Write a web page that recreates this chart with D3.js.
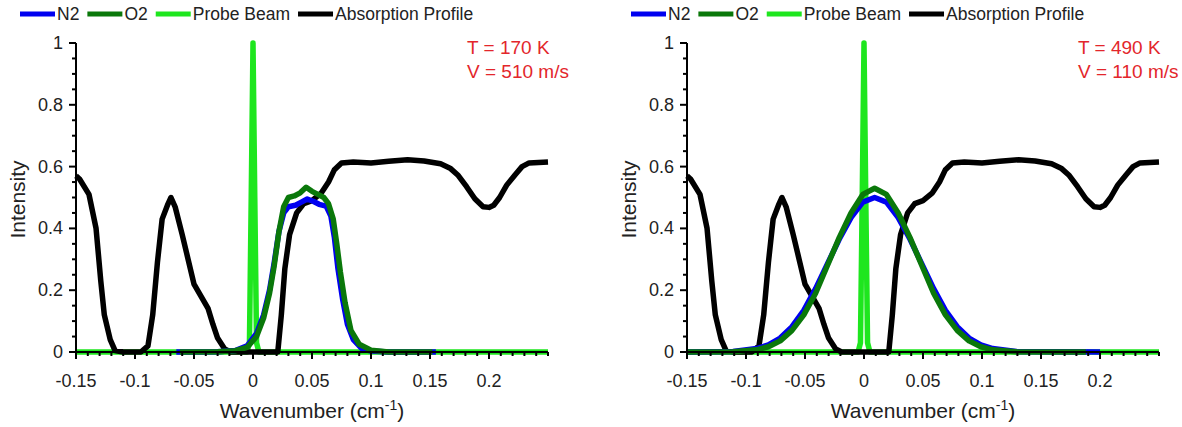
<!doctype html>
<html lang="en">
<head>
  <meta charset="utf-8">
  <title>Probe beam vs absorption profile</title>
  <script src="https://d3js.org/d3.v7.min.js"></script>
  <style>
    body { margin: 0; background: #fff; }
    svg text { font-family: "Liberation Sans", Arial, sans-serif; fill: #222; }
    .tick-label { font-size: 18px; }
    .title { font-size: 21px; }
    .legend text { font-size: 17.5px; }
    .note { font-size: 19px; fill: #e3262b; }
    .series { fill: none; stroke-width: 5.5; stroke-linejoin: round; stroke-linecap: butt; }
  </style>
</head>
<body>
<svg id="chart" width="1182" height="427"></svg>
<script>
// ---- data ----
const seriesNames = ['N2', 'O2', 'Probe Beam', 'Absorption Profile'];
const seriesColors = ['#0000f0', '#0a780a', '#1ee61e', '#000000'];

// absorption profile (same in both panels)
const absX = [-0.15, -0.147, -0.139, -0.133, -0.129, -0.126, -0.121, -0.117, -0.11, -0.095, -0.089, -0.085,
  -0.081, -0.077, -0.0725, -0.0695, -0.066, -0.06, -0.055, -0.05, -0.044, -0.038, -0.034, -0.03, -0.024,
  -0.019, 0, 0.021, 0.024, 0.027, 0.031, 0.037, 0.043, 0.05, 0.058, 0.064, 0.069, 0.075, 0.085, 0.1, 0.115,
  0.131, 0.145, 0.159, 0.167, 0.174, 0.181, 0.188, 0.195, 0.2, 0.204, 0.209, 0.215, 0.222, 0.228, 0.234, 0.25];
const absY = [0.57, 0.56, 0.51, 0.40, 0.23, 0.12, 0.04, 0.005, 0, 0, 0.02, 0.12,
  0.29, 0.43, 0.475, 0.50, 0.47, 0.38, 0.30, 0.22, 0.18, 0.14, 0.09, 0.045, 0.01,
  0, 0, 0, 0.12, 0.27, 0.38, 0.45, 0.48, 0.49, 0.515, 0.55, 0.59, 0.612, 0.615, 0.612, 0.617,
  0.622, 0.618, 0.609, 0.595, 0.571, 0.535, 0.496, 0.47, 0.468, 0.475, 0.5, 0.54, 0.573, 0.6, 0.612, 0.615];

// probe beam (same in both panels)
const probeX = [-0.15, -0.005, -0.003, -0.0015, 0, 0.0015, 0.003, 0.005, 0.25];
const probeY = [0, 0, 0.03, 0.5, 1, 0.5, 0.03, 0, 0];

// left panel: T = 170 K, V = 510 m/s
const n2LeftX = [-0.065, -0.03, -0.015, -0.005, 0.003, 0.009, 0.014, 0.018, 0.022, 0.026, 0.03, 0.036, 0.041,
  0.046, 0.051, 0.056, 0.062, 0.066, 0.069, 0.072, 0.076, 0.08, 0.085, 0.092, 0.1, 0.115, 0.155];
const n2LeftY = [0, 0.001, 0.005, 0.02, 0.06, 0.12, 0.2, 0.29, 0.39, 0.45, 0.47, 0.475, 0.485,
  0.495, 0.488, 0.478, 0.472, 0.44, 0.37, 0.27, 0.17, 0.09, 0.04, 0.012, 0.003, 0, 0];
const o2LeftX = [-0.062, -0.03, -0.015, -0.005, 0.003, 0.009, 0.014, 0.018, 0.022, 0.026, 0.03, 0.035, 0.04,
  0.045, 0.05, 0.055, 0.06, 0.064, 0.068, 0.071, 0.074, 0.078, 0.083, 0.09, 0.1, 0.115, 0.152];
const o2LeftY = [0, 0.001, 0.004, 0.015, 0.05, 0.11, 0.19, 0.28, 0.39, 0.47, 0.5, 0.505, 0.515,
  0.533, 0.52, 0.51, 0.5, 0.48, 0.43, 0.35, 0.26, 0.16, 0.07, 0.025, 0.006, 0, 0];

// right panel: T = 490 K, V = 110 m/s
const n2RightX = [-0.15, -0.111, -0.091, -0.081, -0.071, -0.061, -0.051, -0.041, -0.031, -0.021, -0.011, -0.001,
  0.009, 0.019, 0.029, 0.039, 0.049, 0.059, 0.069, 0.079, 0.089, 0.099, 0.109, 0.129, 0.2];
const n2RightY = [0, 0.002, 0.011, 0.023, 0.045, 0.082, 0.135, 0.205, 0.285, 0.365, 0.435, 0.485,
  0.50, 0.485, 0.435, 0.365, 0.285, 0.205, 0.135, 0.082, 0.045, 0.023, 0.011, 0.002, 0];
const o2RightX = [-0.15, -0.111, -0.091, -0.081, -0.071, -0.061, -0.051, -0.041, -0.031, -0.021, -0.011, -0.001,
  0.009, 0.019, 0.029, 0.039, 0.049, 0.059, 0.069, 0.079, 0.089, 0.099, 0.109, 0.129, 0.188];
const o2RightY = [0, 0.001, 0.007, 0.017, 0.036, 0.07, 0.12, 0.19, 0.28, 0.37, 0.45, 0.51,
  0.53, 0.51, 0.45, 0.37, 0.28, 0.19, 0.12, 0.07, 0.036, 0.017, 0.007, 0.001, 0];

const xTickValues = [-0.15, -0.1, -0.05, 0, 0.05, 0.1, 0.15, 0.2];
const xTickLabels = ['-0.15', '-0.1', '-0.05', '0', '0.05', '0.1', '0.15', '0.2'];
const yTickValues = [0, 0.2, 0.4, 0.6, 0.8, 1];
const yTickLabels = ['0', '0.2', '0.4', '0.6', '0.8', '1'];

const panels = [
  { offset: 0, n2: [n2LeftX, n2LeftY], o2: [o2LeftX, o2LeftY], notes: ['T = 170 K', 'V = 510 m/s'] },
  { offset: 611, n2: [n2RightX, n2RightY], o2: [o2RightX, o2RightY], notes: ['T = 490 K', 'V = 110 m/s'] }
];

const svg = d3.select('#chart');
const zip = (xs, ys) => xs.map((x, i) => [x, ys[i]]);

panels.forEach(p => {
  const g = svg.append('g').attr('transform', `translate(${p.offset},0)`);

  const x = d3.scaleLinear().domain([-0.15, 0.25]).range([76, 548]);
  const y = d3.scaleLinear().domain([0, 1]).range([352, 43]);

  const line = d3.line().x(d => x(d[0])).y(d => y(d[1]));

  // draw order: probe, absorption, N2, O2
  const drawn = [
    [zip(probeX, probeY), seriesColors[2]],
    [zip(absX, absY), seriesColors[3]],
    [zip(p.n2[0], p.n2[1]), seriesColors[0]],
    [zip(p.o2[0], p.o2[1]), seriesColors[1]]
  ];
  drawn.forEach(([pts, col]) => {
    g.append('path').attr('class', 'series').attr('d', line(pts)).attr('stroke', col);
  });

  // x axis
  const xAxis = g.append('g').attr('transform', `translate(0,${y(0)})`);
  xAxis.append('line').attr('x1', x(-0.15)).attr('x2', x(0.25)).attr('stroke', '#000').attr('stroke-width', 2);
  const minorX = d3.range(-15, 26).map(i => i / 100);
  xAxis.selectAll('.mx').data(minorX).join('line')
    .attr('x1', d => x(d)).attr('x2', d => x(d))
    .attr('y1', 0).attr('y2', d => (Math.round(d * 100) % 5 === 0 && d < 0.24) ? 7 : 4)
    .attr('stroke', '#000').attr('stroke-width', 2);
  xAxis.selectAll('text').data(xTickValues).join('text')
    .attr('class', 'tick-label')
    .attr('x', d => x(d)).attr('y', 35)
    .attr('text-anchor', 'middle')
    .text((d, i) => xTickLabels[i]);

  // y axis
  const yAxis = g.append('g').attr('transform', `translate(${x(-0.15)},0)`);
  yAxis.append('line').attr('y1', y(0) + 1).attr('y2', y(1)).attr('stroke', '#000').attr('stroke-width', 2);
  const minorY = d3.range(0, 21).map(i => i / 20);
  yAxis.selectAll('.my').data(minorY).join('line')
    .attr('y1', d => y(d)).attr('y2', d => y(d))
    .attr('x1', 0).attr('x2', (d, i) => i % 4 === 0 ? -7 : -4)
    .attr('stroke', '#000').attr('stroke-width', 2);
  yAxis.selectAll('text').data(yTickValues).join('text')
    .attr('class', 'tick-label')
    .attr('x', -13).attr('y', d => y(d) + 6)
    .attr('text-anchor', 'end')
    .text((d, i) => yTickLabels[i]);

  // axis titles
  const xt = g.append('text').attr('class', 'title')
    .attr('x', (x(-0.15) + x(0.25)) / 2).attr('y', 418).attr('text-anchor', 'middle');
  xt.append('tspan').text('Wavenumber (cm');
  xt.append('tspan').attr('dy', -8).style('font-size', '14px').text('-1');
  xt.append('tspan').attr('dy', 8).text(')');

  g.append('text').attr('class', 'title')
    .attr('transform', `translate(25,${(y(0) + y(1)) / 2 + 2}) rotate(-90)`)
    .attr('text-anchor', 'middle')
    .text('Intensity');

  // annotations
  g.selectAll('.note').data(p.notes).join('text')
    .attr('class', 'note')
    .attr('x', 467).attr('y', (d, i) => 54 + i * 24)
    .text(d => d);

  // legend
  const legend = g.append('g').attr('class', 'legend');
  let lx = 20;
  seriesNames.forEach((name, i) => {
    legend.append('line').attr('x1', lx).attr('x2', lx + 35).attr('y1', 14).attr('y2', 14)
      .attr('stroke', seriesColors[i]).attr('stroke-width', 5);
    const t = legend.append('text').attr('x', lx + 37).attr('y', 20).text(name);
    lx += 37 + t.node().getComputedTextLength() + 8;
  });
});
</script>
</body>
</html>
